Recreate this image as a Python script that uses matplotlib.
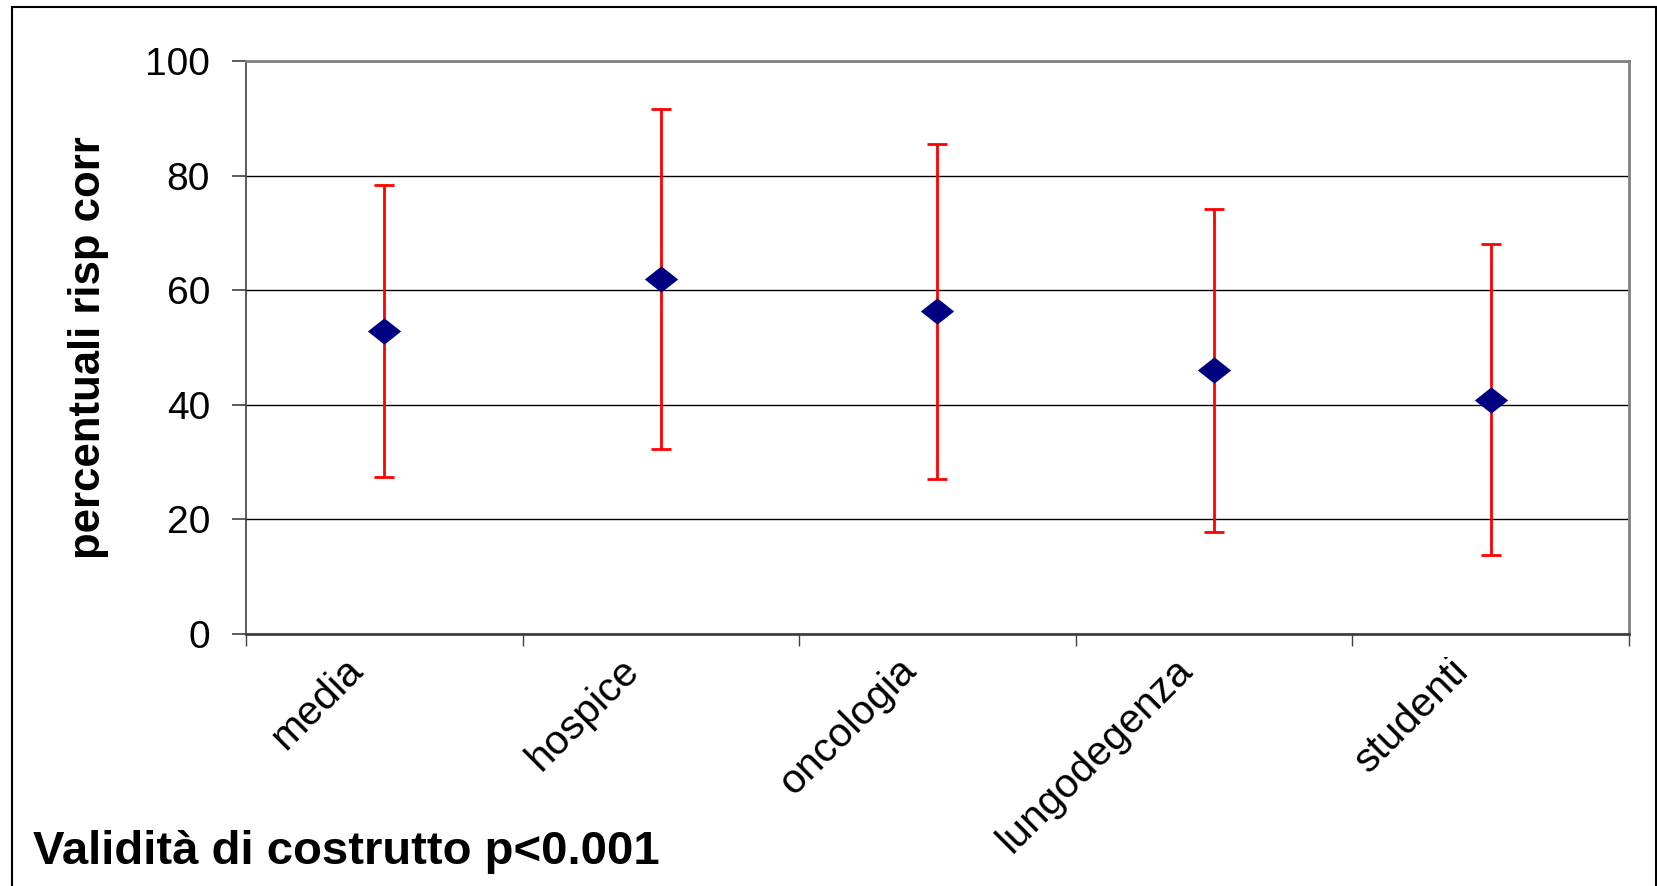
import matplotlib
matplotlib.use("Agg")
import matplotlib.pyplot as plt
import numpy as np
from matplotlib.patches import Rectangle
from matplotlib.transforms import Bbox, TransformedBbox, ScaledTranslation

# ── dati ──
categories = ["media", "hospice", "oncologia", "lungodegenza", "studenti"]
media = [52.9, 62.0, 56.3, 46.0, 40.9]
sd = [25.5, 29.7, 29.3, 28.2, 27.1]
y_ticks = [0, 20, 40, 60, 80, 100]

W, H = 1658, 886
DPI = 100

plt.rcParams["font.family"] = ["Liberation Sans", "DejaVu Sans"]

fig = plt.figure(figsize=(W / DPI, H / DPI), dpi=DPI)
fig.patch.set_facecolor("white")

# cornice esterna (bordo del grafico Excel)
fig.patches.append(Rectangle((12 / W, -0.01), (1656 - 12) / W, 1.01 - 7 / H,
                             transform=fig.transFigure, fill=False,
                             edgecolor="black", linewidth=1.5))

ax = fig.add_axes([246 / W, 1 - 634 / H, (1629 - 246) / W, (634 - 61) / H])

x = np.arange(len(categories)) + 0.5
diamond = [(-1, 0), (0, 0.79), (1, 0), (0, -0.79), (-1, 0)]
ax.errorbar(x, media, yerr=sd, fmt="none", ecolor="#ff0000", elinewidth=2.0,
            capsize=7.5, capthick=2.0, zorder=3)
ax.plot(x, media, linestyle="none", marker=diamond, markersize=24,
        color="#000080", markeredgewidth=0, zorder=4)

ax.set_xlim(0, len(categories))
ax.set_ylim(0, 100)
ax.set_yticks(y_ticks)
ax.set_yticklabels([str(v) for v in y_ticks], fontsize=28)
ax.set_xticks(np.arange(len(categories) + 1))
ax.set_xticklabels([])
ax.tick_params(axis="y", direction="out", length=10, width=1.2, pad=16, color="#404040")
ax.tick_params(axis="x", direction="out", length=8.5, width=1.0, color="#404040")

ax.grid(axis="y", color="black", linewidth=1.0)
ax.set_axisbelow(True)
for side in ["top", "right"]:
    ax.spines[side].set_color("#808080")
    ax.spines[side].set_linewidth(2.0)
ax.spines["left"].set_color("#404040")
ax.spines["left"].set_linewidth(1.2)
ax.spines["bottom"].set_color("#404040")
ax.spines["bottom"].set_linewidth(2.0)

# etichette categorie ruotate, tagliate in alto come nell'originale
clip = TransformedBbox(Bbox([[0, 0], [1, (H - 657) / H]]), fig.transFigure)
offset = ScaledTranslation(-20 / DPI, -38 / DPI, fig.dpi_scale_trans)
for xi, name in zip(x, categories):
    t = ax.text(xi, 0, name, transform=ax.get_xaxis_transform() + offset,
                rotation=45, rotation_mode="anchor", ha="right", va="baseline",
                fontsize=29.5)
    t.set_clip_path(None)
    t.set_clip_box(clip)
    t.set_clip_on(True)

ax.set_ylabel("percentuali risp corr", fontsize=31.5, fontweight="bold")
ax.yaxis.set_label_coords(-0.099, 0.5)

fig.text(33 / W, 1 - 864 / H, "Validità di costrutto p<0.001", fontsize=34,
         fontweight="bold", ha="left", va="baseline")

fig.savefig("out.png", dpi=DPI)
